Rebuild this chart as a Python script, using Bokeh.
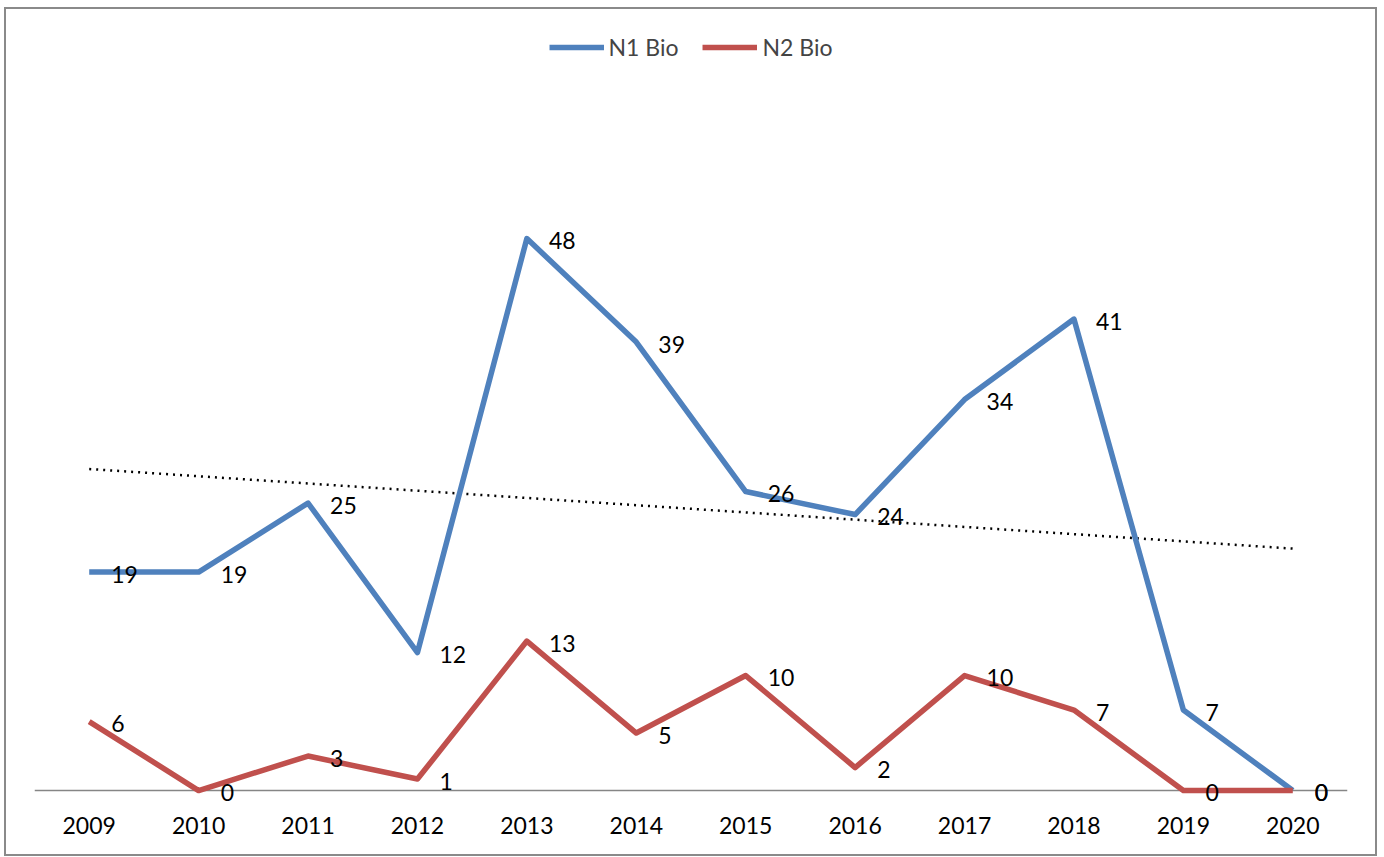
import numpy as np
from bokeh.plotting import figure
from bokeh.models import FactorRange, Range1d, Legend, LegendItem, Span
from bokeh.layouts import column
from bokeh.embed import file_html
from bokeh.resources import INLINE
from bokeh.core.properties import value

# ---- data ----
years = ["2009", "2010", "2011", "2012", "2013", "2014",
         "2015", "2016", "2017", "2018", "2019", "2020"]
n1_bio = [19, 19, 25, 12, 48, 39, 26, 24, 34, 41, 7, 0]
n2_bio = [6, 0, 3, 1, 13, 5, 10, 2, 10, 7, 0, 0]
series_names = ["N1 Bio", "N2 Bio"]

# linear trendline of N1 Bio (least squares, as in the spreadsheet trendline)
idx = np.arange(len(years))
slope, intercept = np.polyfit(idx, n1_bio, 1)
trend_x = [years[0], years[-1]]
trend_y = [float(intercept), float(intercept + slope * idx[-1])]

BLUE = "#4F81BD"
RED = "#C0504D"
FONT = "Lato"
FS = "23px"

W, H = 1369, 845
p = figure(width=W, height=H,
           x_range=FactorRange(*years, range_padding=0, factor_padding=0),
           y_range=Range1d(-1.3, 67.92),
           output_backend="svg", toolbar_location=None,
           min_border_left=28, min_border_right=28,
           min_border_top=0, min_border_bottom=49)
p.outline_line_color = None
p.background_fill_color = "white"
p.border_fill_color = "white"
p.xgrid.grid_line_color = None
p.ygrid.grid_line_color = None
p.yaxis.visible = False

ax = p.xaxis[0]
ax.axis_line_color = None
ax.major_tick_line_color = None
ax.minor_tick_line_color = None
ax.major_tick_in = 0
ax.major_tick_out = 0
ax.major_label_standoff = 11
ax.major_label_text_font = FONT
ax.major_label_text_font_size = FS
ax.major_label_text_color = "black"

zero_line = Span(location=0, dimension="width", line_color="#868686",
                 line_width=1.5, level="underlay")
p.add_layout(zero_line)

# trendline
p.line(trend_x, trend_y, line_color="black", line_width=2.5, line_dash="2 5")

r1 = p.line(years, n1_bio, line_color=BLUE, line_width=5.5, line_join="round")
r2 = p.line(years, n2_bio, line_color=RED, line_width=5.5, line_join="round")

# data labels
for vals in (n1_bio, n2_bio):
    p.text(x=years, y=vals, text=[str(v) for v in vals],
           x_offset=22, y_offset=2,
           text_font=value(FONT), text_font_size=FS,
           text_align="left", text_baseline="middle", text_color="black")

legend = Legend(items=[LegendItem(label=series_names[0], renderers=[r1]),
                       LegendItem(label=series_names[1], renderers=[r2])],
                location="top_center", orientation="horizontal",
                label_text_font=FONT, label_text_font_size=FS,
                glyph_width=55, glyph_height=20, label_height=20,
                label_standoff=5, spacing=24, padding=0, margin=24,
                border_line_color=None, background_fill_alpha=0)
p.add_layout(legend)

layout = column(p, styles={"border": "2px solid #8a8a8a",
                           "margin": "7px 0px 0px 4px"})

open("out.html", "w").write(file_html(layout, INLINE))
